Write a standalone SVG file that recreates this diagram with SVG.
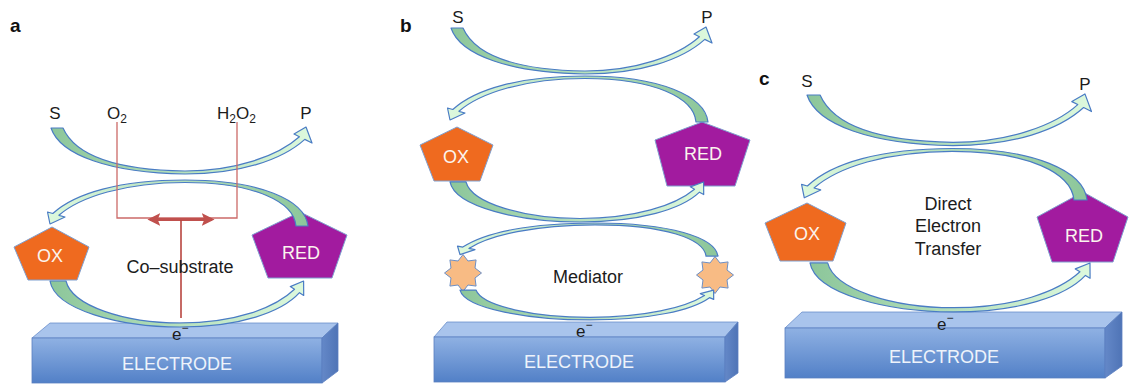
<svg xmlns="http://www.w3.org/2000/svg" xmlns:xlink="http://www.w3.org/1999/xlink" width="1130" height="387" viewBox="0 0 1130 387">
<style>
.lbl{font-family:"Liberation Sans",Arial,sans-serif;fill:#1c1c1c;font-size:17px}
.mid{font-family:"Liberation Sans",Arial,sans-serif;fill:#1c1c1c;font-size:18px;text-anchor:middle}
.pan{font-family:"Liberation Sans",Arial,sans-serif;fill:#111;font-size:19px;font-weight:bold}
.wt{font-family:"Liberation Sans",Arial,sans-serif;fill:#fbf4ee;font-size:18px;text-anchor:middle}
.el{font-family:"Liberation Sans",Arial,sans-serif;fill:#eef3fb;font-size:18px;text-anchor:middle}
.arr{stroke:#4a7cc4;stroke-width:1.2;stroke-linejoin:round}
.ox{fill:#ef6a1f;stroke:#7f9fcf;stroke-width:1}
.red{fill:#a21b9f;stroke:#7f9fcf;stroke-width:1}
.front{fill:url(#gFront);stroke:#5a7fc0;stroke-width:0.8}
.topf{fill:#a9c4ec;stroke:#6b8fcc;stroke-width:0.8}
.side{fill:url(#gSide);stroke:#5a7fc0;stroke-width:0.8}
.star{fill:#f8bb84;stroke:#6d8fc5;stroke-width:1}
.thin{stroke:#cc6a68;stroke-width:1.3;fill:none}
</style>
<defs>
<linearGradient id="gR" x1="0" y1="0" x2="1" y2="0"><stop offset="0" stop-color="#8cc69a"/><stop offset="1" stop-color="#ddf9dd"/></linearGradient>
<linearGradient id="gL" x1="0" y1="0" x2="1" y2="0"><stop offset="0" stop-color="#ddf9dd"/><stop offset="1" stop-color="#8cc69a"/></linearGradient>
<linearGradient id="gFront" x1="0" y1="0" x2="0" y2="1"><stop offset="0" stop-color="#8fb1e3"/><stop offset="1" stop-color="#5280c7"/></linearGradient>
<linearGradient id="gSide" x1="0" y1="0" x2="1" y2="0"><stop offset="0" stop-color="#6488c8"/><stop offset="1" stop-color="#4f74b6"/></linearGradient>
<path id="arrTop" class="arr" fill="url(#gR)" vector-effect="non-scaling-stroke" d="M51,128 C60,155 110,173 185,174 C240,174 282,160 304.8,139.4 L312,143 L306,127 L294,134 L299.4,136.7 C278,156 235,171 185,171 C115,170 75,155 63,128 Z"/>
<path id="arrArch" class="arr" fill="url(#gL)" vector-effect="non-scaling-stroke" d="M308,226 C305,200 260,180 185,180 C120,180 75,193 52.8,213.5 L47.5,212 L50,224 L65,217 L58.9,215.3 C80,197 125,182.5 185,182.5 C255,182.5 294,202 296,226 Z"/>
<path id="arrBot" class="arr" fill="url(#gR)" vector-effect="non-scaling-stroke" d="M50,281 C55,310 120,327 180,327 C240,327 282,312 299.5,292.7 L303.7,295.4 L303.6,281 L290.3,286.6 L294.5,289.3 C275,308 235,323 180,323 C125,323 72,306 66,281 Z"/>
<polygon id="starShape" class="star" points="18.5,0 12.01,4.97 13.08,13.08 4.97,12.01 0,18.5 -4.97,12.01 -13.08,13.08 -12.01,4.97 -18.5,0 -12.01,-4.97 -13.08,-13.08 -4.97,-12.01 0,-18.5 4.97,-12.01 13.08,-13.08 12.01,-4.97"/>
<marker id="redHead" viewBox="0 0 10 10" refX="8" refY="5" markerWidth="4" markerHeight="4" orient="auto-start-reverse"><path d="M0,0 L10,5 L0,10 L2,5 Z" fill="#c0504d"/></marker>
</defs>

<!-- panel labels -->
<text class="pan" x="10" y="32">a</text>
<text class="pan" x="400" y="32">b</text>
<text class="pan" x="759" y="85">c</text>

<!-- electrodes -->
<g id="electrode-a">
<polygon class="topf" points="32,338 50,323 338,323 322,338"/>
<rect class="front" x="32" y="338" width="290" height="45"/>
<polygon class="side" points="322,338 338,323 338,371 322,383"/>
<text class="el" x="177" y="370">ELECTRODE</text>
</g>
<g id="electrode-b">
<polygon class="topf" points="434,337 447,322 738,322 725,337"/>
<rect class="front" x="434" y="337" width="291" height="45"/>
<polygon class="side" points="725,337 738,322 738,373 725,382"/>
<text class="el" x="579" y="368">ELECTRODE</text>
</g>
<g id="electrode-c">
<polygon class="topf" points="785,328 802,312 1122,312 1105,328"/>
<rect class="front" x="785" y="328" width="320" height="50"/>
<polygon class="side" points="1105,328 1122,312 1122,366 1105,378"/>
<text class="el" x="944" y="363">ELECTRODE</text>
</g>

<!-- enzyme nodes -->
<g id="ox-a"><polygon class="ox" points="52,227 89,247 77,280 28,280 14,247"/><text class="wt" x="50" y="262">OX</text></g>
<g id="red-a"><polygon class="red" points="300,212 347,235 332,278 268,278 252,235"/><text class="wt" x="301" y="259">RED</text></g>
<g id="ox-b"><polygon class="ox" points="457,127 493,145 480,181 434,181 420,145"/><text class="wt" x="456" y="163">OX</text></g>
<g id="red-b"><polygon class="red" points="702,122 750,140 735,186 667,186 655,140"/><text class="wt" x="703" y="160">RED</text></g>
<g id="ox-c"><polygon class="ox" points="807,203 846,223 833,261 780,261 765,223"/><text class="wt" x="807" y="240">OX</text></g>
<g id="red-c"><polygon class="red" points="1083,192 1128,217 1113,262 1052,262 1037,217"/><text class="wt" x="1084" y="242">RED</text></g>
<g id="mediator-left"><use xlink:href="#starShape" href="#starShape" transform="translate(463,273)"/></g>
<g id="mediator-right"><use xlink:href="#starShape" href="#starShape" transform="translate(715,275)"/></g>

<!-- connectors -->
<g id="connectors">
<use href="#arrTop" xlink:href="#arrTop"/>
<use href="#arrArch" xlink:href="#arrArch"/>
<use href="#arrBot" xlink:href="#arrBot"/>
<use href="#arrTop" xlink:href="#arrTop" transform="translate(400,-100)"/>
<use href="#arrArch" xlink:href="#arrArch" transform="translate(400,-104)"/>
<use href="#arrBot" xlink:href="#arrBot" transform="matrix(1,0,0,0.87,400,-62.5)"/>
<use href="#arrArch" xlink:href="#arrArch" transform="matrix(1,0,0,0.72,410,93.4)"/>
<use href="#arrBot" xlink:href="#arrBot" transform="matrix(1,0,0,0.65,410,107.4)"/>
<use href="#arrTop" xlink:href="#arrTop" transform="matrix(1.09,0,0,1.1,751.4,-45.8)"/>
<use href="#arrArch" xlink:href="#arrArch" transform="matrix(1.096,0,0,1.12,749.5,-53.1)"/>
<use href="#arrBot" xlink:href="#arrBot" transform="matrix(1.104,0,0,1.065,754.8,-36.3)"/>
<polyline class="thin" points="117,122 117,218 237,218 237,122"/>
<line x1="150" y1="219.5" x2="212" y2="219.5" stroke="#c0504d" stroke-width="3.2" marker-start="url(#redHead)" marker-end="url(#redHead)"/>
<line x1="181" y1="220" x2="181" y2="318" stroke="#b8453f" stroke-width="1.6"/>
</g>

<!-- labels -->
<text class="lbl" x="55" y="119" text-anchor="middle">S</text>
<text class="lbl" x="107" y="119">O<tspan font-size="12" dy="4">2</tspan></text>
<text class="lbl" x="217" y="119">H<tspan font-size="12" dy="4">2</tspan><tspan dy="-4">O</tspan><tspan font-size="12" dy="4">2</tspan></text>
<text class="lbl" x="306" y="119" text-anchor="middle">P</text>
<text class="mid" x="180" y="273">Co–substrate</text>
<text class="lbl" x="172" y="340">e<tspan font-size="12" dy="-8">−</tspan></text>

<text class="lbl" x="458" y="23" text-anchor="middle">S</text>
<text class="lbl" x="707" y="23" text-anchor="middle">P</text>
<text class="mid" x="588" y="283">Mediator</text>
<text class="lbl" x="576" y="337">e<tspan font-size="12" dy="-8">−</tspan></text>

<text class="lbl" x="807" y="87" text-anchor="middle">S</text>
<text class="lbl" x="1085" y="90" text-anchor="middle">P</text>
<text class="mid" x="948" y="210">Direct</text>
<text class="mid" x="948" y="232">Electron</text>
<text class="mid" x="948" y="255">Transfer</text>
<text class="lbl" x="937" y="330">e<tspan font-size="12" dy="-8">−</tspan></text>
</svg>
